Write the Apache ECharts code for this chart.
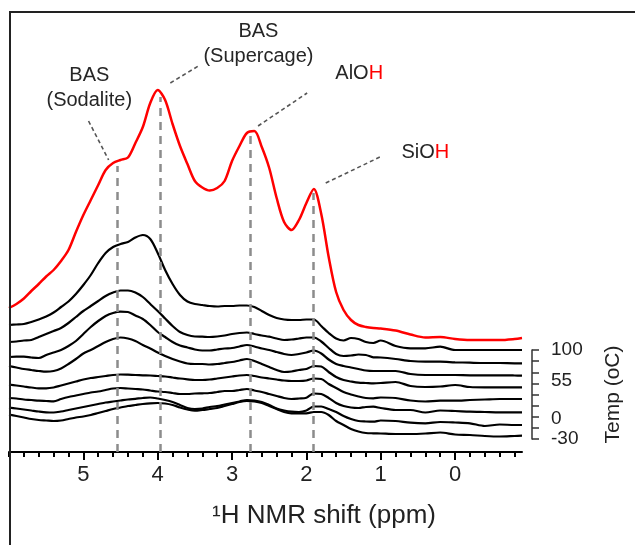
<!DOCTYPE html>
<html>
<head>
<meta charset="utf-8">
<script src="https://cdn.jsdelivr.net/npm/echarts@6/dist/echarts.min.js"></script>
<style>html,body{margin:0;padding:0;background:#fff}#c{width:635px;height:545px}</style>
</head>
<body>
<div id="c"></div>
<script>
// chemical shift grid (ppm), shared by all traces
const ppm = [6.0,5.9,5.8,5.7,5.6,5.5,5.4,5.3,5.2,5.1,
             5.0,4.9,4.8,4.7,4.6,4.5,4.4,4.3,4.2,4.1,
             4.0,3.9,3.8,3.7,3.6,3.5,3.4,3.3,3.2,3.1,
             3.0,2.9,2.8,2.7,2.6,2.5,2.4,2.3,2.2,2.1,
             2.0,1.9,1.8,1.7,1.6,1.5,1.4,1.3,1.2,1.1,
             1.0,0.8,0.6,0.4,0.2,0.0,-0.2,-0.4,-0.6,-0.8,-0.9];

// stacked spectra (vertical offsets included), arbitrary units
const redTrace = [144,148,153.5,161,168,175.5,182,191,202,220,
                  237,252,267,282,289,292,294.5,309,325,349,
                  362,352,328,306,288,271,264.5,261.5,264,271,
                  291,306,319,321,305,284,254,230,222,232,
                  249,263,238,195,160,142,132,127,125,124,
                  123.5,121.5,117.5,114.5,115,113,112,112,112,113,114];
const trace1 = [127,127.5,128,130,132.5,135.5,139.5,145,150.5,158,
                167,177,189,199,205,208,210,214.5,217,213,
                199,182,168,157,150.5,148,147,146,145.5,146,
                146,146.5,146.5,145,141,137,134,132.5,132,132,
                132.5,132.5,126,119,113.5,111.5,114,113,110,109,
                111.5,106,103.7,103.7,105.3,102,102,102,102,102,102];
const trace2 = [110,110.5,111.5,112,115,118,121,124,129,135,
                141,146,151,156,159.5,161.5,161.5,159.5,155,148,
                141,133.5,126,120,117,115.5,115.3,115,115.5,116.5,
                118,119,119.5,118,116.5,115.3,113.5,112,112.5,113.5,
                114.5,114.5,110.5,104,98,96,96.5,97.5,97,94.7,
                94.5,93,91,90.3,90.3,89.7,89.3,89,89,88.7,88.7];
const trace3 = [95,95.3,95.3,94.5,94,97,99.5,102,106,111,
                118,125,131,136,139,140.3,140,136.5,133,127,
                120,115,110,106.5,104.5,102.5,101.5,101.5,102.5,103.5,
                104,105.5,107,105.5,103.5,102,100,98,97,98,
                99.5,101.5,98.5,92.5,88,86,84.5,83,81.5,81,
                81,81,78,77,77,77,76.7,76.7,76.7,76.5,76.3];
const trace4 = [86,84.5,83,82,81,80.3,81,83.5,88,93,
                98.5,102,106,110,113,114.5,113.5,111,107,103.5,
                99.5,96,93,90.5,88.5,88,88,87.5,88,89,
                90,91.5,93,91,88,85,82,80,80.5,82,
                83,86,85.5,80,75,72,70.5,69.3,69,68.7,
                69,70,66,65,65.5,67,65,64.7,64.7,64.7,64.7];
const trace5 = [67.5,66.5,65.5,64.5,63.7,63.7,64.5,66.5,68.5,70.5,
                72.5,74,75,76,77,77.5,77.3,77,76.7,76.5,
                76,75.5,74.5,73.5,72.7,72,72,72.5,73.5,74.5,
                75.5,76.5,77,76,74.5,73.5,72.5,71.5,71,71,
                71.5,73.5,73,68,64,60,57.5,55.5,54,53.7,
                54.5,54,51.5,50.5,51.3,51.3,52,52.5,53,53,53];
const trace6 = [54,53.5,52.5,52,51.3,51,50.7,53,55,56.5,
                58,59.5,60.5,62,63.5,64,63.5,63,62.5,61.5,
                60.5,60,59,58,58,58.5,58.7,59,60,61,
                61,62,63,61.5,60,58,56,54,53,53.5,
                54.3,58.5,58,54,49,46,44.5,44,45,45.3,
                44,42,42,39.5,41.5,41,40.3,40,39.7,39.7,39.7];
const trace7 = [44.5,43.5,42.5,41.5,40.5,39.7,39.5,40.5,42,43.5,
                45,46.5,48,49.5,50.5,51.5,52.5,53.2,54,54.5,
                53.5,52,50,47,44,43,43.5,45,46,47.5,
                49,50.5,52,51.5,50,47,43.5,41.5,40.3,40,
                41.5,45.5,45.5,43,40,36,33,31,30.5,30.3,
                31.5,31,29.3,28.7,30,29.5,28.7,26,27.5,27,27];
const trace8 = [37.5,36,34.5,33,32,31.5,31,31.5,33,34.5,
                35.5,37,39,41,43,44.5,46,47,48,48.7,
                49,48.5,47,44.5,42.5,41.3,42,43,44,46,
                48,50,51,50.5,49,46,43,40,38.7,38.7,
                38.7,40,40,37,31,27,23,20.5,19,18.7,
                18.5,18,18,18.5,19.5,17.5,17,16,15.5,16,16.3];

// axis ticks / labels
const ppmMajorTicks = [5, 4, 3, 2, 1, 0];
const tempTicks = [-30, -13.75, 2.5, 18.75, 35, 51.25, 67.5, 83.75, 100];
const tempLabels = [-30, 0, 55, 100];

// peak guide lines (ppm, top of guide)
const peakPpm = [4.55, 3.97, 2.76, 1.91];
const peakGuideTop = [286, 355, 320, 259];

// annotations
const labelText = ['BAS\n(Sodalite)', 'BAS\n(Supercage)', 'AlO{h|H}', 'SiO{h|H}'];
const labelPpm = [4.92, 2.645, 1.29, 0.40];
const labelLevel = [364.5, 408, 378.5, 300];
const leaderStart = [[4.93, 331], [3.83, 369], [2.65, 326], [1.74, 269]];
const leaderEnd = [[4.66, 292], [3.43, 387], [1.99, 359], [1.01, 295]];

const FONT = '"Liberation Sans", Arial, sans-serif';
const INK = '#222';

const minorTicks = [];
for (let k = -4; k <= 30; k++) {
  const v = Math.round(k * 0.2 * 10) / 10;
  if (Math.abs(v - Math.round(v)) > 1e-6 || v === 6) minorTicks.push(v);
}

function pairs(arr) { return ppm.map((x, i) => [x, arr[i]]); }

const blackTraces = [trace1, trace2, trace3, trace4, trace5, trace6, trace7, trace8];

const series = [];
series.push({
  type: 'line', xAxisIndex: 0, yAxisIndex: 0, data: [], z: 1, silent: true,
  markLine: {
    silent: true, symbol: ['none', 'none'], label: { show: false },
    lineStyle: { type: [8, 6], color: '#8c8c8c', width: 2.5 },
    emphasis: { disabled: true },
    data: peakPpm.map((p, i) => [{ coord: [p, 0] }, { coord: [p, peakGuideTop[i]] }])
  }
});
series.push({
  type: 'line', xAxisIndex: 0, yAxisIndex: 0, data: [], z: 1, silent: true,
  markLine: {
    silent: true, symbol: ['none', 'none'], label: { show: false },
    lineStyle: { type: [4, 3], color: '#555', width: 1.6 },
    emphasis: { disabled: true },
    data: leaderStart.map((s, i) => [{ coord: s }, { coord: leaderEnd[i] }])
  }
});
blackTraces.forEach((t, i) => {
  series.push({
    type: 'line', name: 'T' + i, xAxisIndex: 0, yAxisIndex: 0,
    data: pairs(t), symbol: 'none', smooth: 0.3, z: 3,
    lineStyle: { color: '#000', width: 2.2 }
  });
});
series.push({
  type: 'line', name: 'red', xAxisIndex: 0, yAxisIndex: 0,
  data: pairs(redTrace), symbol: 'none', smooth: 0.3, z: 4,
  lineStyle: { color: '#ff0000', width: 2.5 }
});
series.push({
  type: 'scatter', xAxisIndex: 0, yAxisIndex: 0, z: 5, silent: true,
  symbolSize: 1, itemStyle: { color: 'rgba(0,0,0,0)', opacity: 1 },
  data: labelPpm.map((p, i) => [p, labelLevel[i]]),
  label: {
    show: true, position: 'inside', formatter: p => labelText[p.dataIndex],
    fontFamily: FONT, fontSize: 20, color: '#262626', lineHeight: 25, opacity: 1,
    textBorderWidth: 0,
    rich: { h: { color: '#ff0000', fontFamily: FONT, fontSize: 20 } }
  }
});

const option = {
  animation: false,
  backgroundColor: '#fff',
  grid: [
    { left: 9, right: 113, top: 12, bottom: 93 },
    { left: 532, width: 1, top: 350, height: 89 }
  ],
  xAxis: [
    {
      gridIndex: 0, type: 'value', min: -0.9, max: 6.0, inverse: true, position: 'bottom',
      axisLine: { show: true, lineStyle: { color: '#000', width: 2 } },
      axisTick: { show: true, customValues: ppmMajorTicks, length: 8, lineStyle: { color: '#000', width: 2 } },
      axisLabel: { show: true, customValues: ppmMajorTicks, fontFamily: FONT, fontSize: 22, color: INK, margin: 12 },
      splitLine: { show: false }
    },
    {
      gridIndex: 0, type: 'value', min: -0.9, max: 6.0, inverse: true, position: 'bottom',
      axisLine: { show: false },
      axisTick: { show: true, customValues: minorTicks, length: 5, lineStyle: { color: '#000', width: 2 } },
      axisLabel: { show: false },
      splitLine: { show: false }
    },
    { gridIndex: 1, type: 'value', show: false }
  ],
  yAxis: [
    { gridIndex: 0, type: 'value', min: 0, max: 440, show: false },
    {
      gridIndex: 1, type: 'value', position: 'right', min: -30, max: 100,
      axisLine: { show: true, lineStyle: { color: '#333', width: 1.5 } },
      axisTick: { show: true, customValues: tempTicks, length: 7, lineStyle: { color: '#333', width: 1.5 } },
      axisLabel: { show: true, customValues: tempLabels, fontFamily: FONT, fontSize: 19, color: INK, margin: 18 },
      splitLine: { show: false },
      name: 'Temp (oC)', nameLocation: 'middle', nameGap: 70, nameRotate: 90,
      nameTextStyle: { fontFamily: FONT, fontSize: 21, color: INK }
    }
  ],
  graphic: [
    { type: 'polyline', z: 10, silent: true, shape: { points: [[10, 545], [10, 12], [635, 12]] },
      style: { stroke: '#222', lineWidth: 2, fill: null } },
    { type: 'text', x: 324, y: 516, z: 10, silent: true,
      style: { text: '¹H NMR shift (ppm)', fontFamily: FONT, fontSize: 26, fill: INK,
               textAlign: 'center', textVerticalAlign: 'middle' } }
  ],
  series: series
};

const chart = echarts.init(document.getElementById('c'), null, { renderer: 'canvas' });
chart.setOption(option);
</script>
</body>
</html>
